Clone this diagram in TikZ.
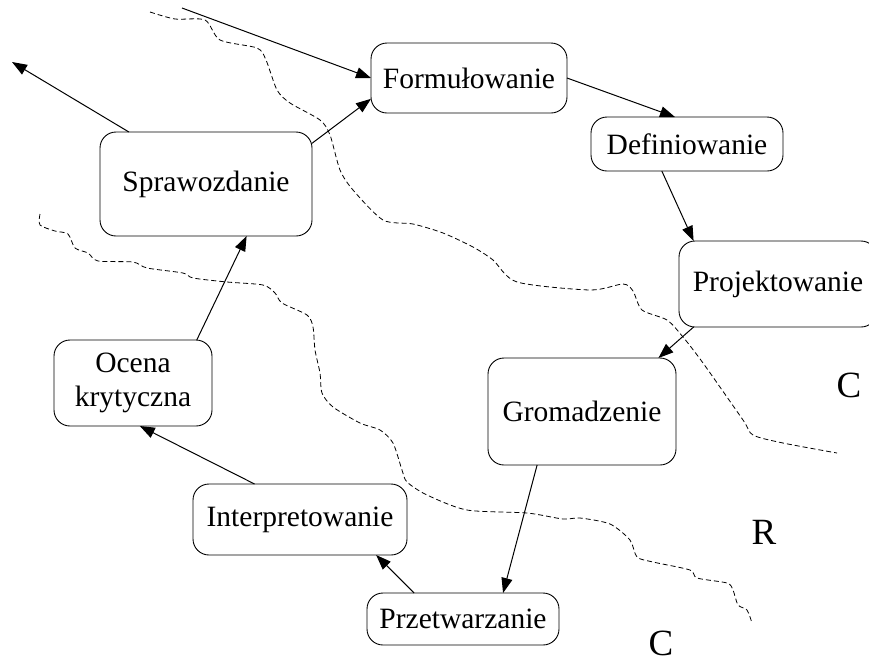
\documentclass[tikz,border=0pt]{standalone}
\usepackage{fontspec}
\setmainfont{Liberation Serif}
\usetikzlibrary{arrows.meta}
\begin{document}
\begin{tikzpicture}[x=1pt,y=-1pt,
  stage/.style={draw,line width=0.9pt,rounded corners=16pt,inner sep=0pt,outer sep=0pt,
    align=center,font=\fontsize{29.5}{34}\selectfont},
  flow/.style={line width=1pt,-{Triangle[length=15pt,width=11pt]}},
  border/.style={dashed,line width=0.8pt,dash pattern=on 5pt off 3pt},
  region/.style={font=\fontsize{37}{40}\selectfont,inner sep=0pt,anchor=base}]
\useasboundingbox (0,0) rectangle (869,665);

% stages of the cycle
\node[stage,minimum width=196pt,minimum height=70pt]  (form)   at (469,78)    {Formułowanie};
\node[stage,minimum width=192pt,minimum height=54pt]  (def)    at (687,144)   {Definiowanie};
\node[stage,minimum width=198pt,minimum height=86pt]  (proj)   at (778,284)   {Projektowanie};
\node[stage,minimum width=188pt,minimum height=107pt] (grom)   at (582,411.5) {Gromadzenie};
\node[stage,minimum width=192pt,minimum height=52pt]  (przetw) at (463,619)   {Przetwarzanie};
\node[stage,minimum width=214pt,minimum height=71pt]  (interp) at (300,519.5) {Interpretowanie};
\node[stage,minimum width=158pt,minimum height=86pt]  (ocena)  at (133,383)   {Ocena\\krytyczna};
\node[stage,minimum width=212pt,minimum height=104pt] (spr)    at (206,184)   {Sprawozdanie};

% region letters
\node[region] (c1) at (849,397) {C};
\node[region] (r1) at (764,544) {R};
\node[region] (c2) at (661,655) {C};

% loose ends of the cycle
\coordinate (inflow)  at (182,8);
\coordinate (outflow) at (12,62);

% connectors
\draw[flow] (inflow) -- (form.west);
\draw[flow] (spr.21) -- (form.192);
\draw[flow] (form.east) -- (def.114);
\draw[flow] (def.227) -- (proj.153);
\draw[flow] (proj.207) -- (grom.35);
\draw[flow] (grom.230) -- (przetw.33);
\draw[flow] (przetw.152) -- (interp.335);
\draw[flow] (interp.142) -- (ocena.279);
\draw[flow] (ocena.34) -- (spr.308);
\draw[flow] (spr.146) -- (outflow);

% dashed boundaries
\draw[border] plot[smooth,tension=0.45] coordinates {
  (150,12) (175,19) (205,20) (220,40) (257,48) (266,60) (277,90) (290,103)
  (320,120) (330,135) (340,170) (353,190) (383,220) (413,224) (443,233)
  (473,247) (493,260) (517,282) (590,290) (623,284) (633,291) (642,310)
  (667,320) (683,337) (703,363) (743,420) (753,435) (783,443) (837,453)};
\draw[border] plot[smooth,tension=0.45] coordinates {
  (40,214) (40,225) (55,231) (68,234) (75,248) (88,253) (98,261) (133,262)
  (147,268) (183,273) (193,278) (227,282) (263,285) (275,293) (282,303)
  (307,315) (313,327) (315,350) (320,373) (322,393) (333,407) (360,423)
  (380,430) (393,443) (402,470) (407,482) (427,495) (467,510) (527,513)
  (563,519) (580,518) (610,524) (630,540) (637,557) (653,562) (690,570)
  (697,578) (727,583) (733,590) (738,605) (747,610) (752,623)};
\end{tikzpicture}
\end{document}
